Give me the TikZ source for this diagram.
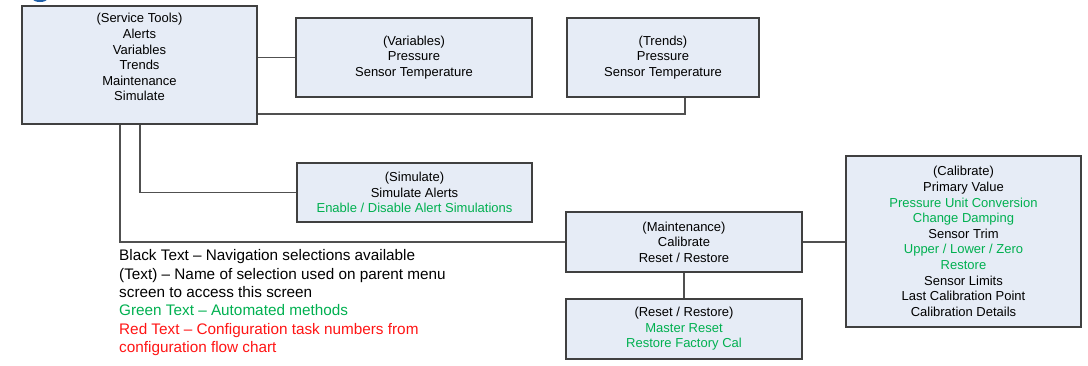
\documentclass[tikz,border=0pt]{standalone}
\usepackage{fontspec}
\setmainfont{Liberation Sans}
\usetikzlibrary{shadows}
\definecolor{boxfill}{RGB}{230,236,246}
\definecolor{boxline}{RGB}{64,64,64}
\definecolor{conn}{RGB}{80,80,80}
\definecolor{gtxt}{RGB}{0,176,80}
\definecolor{rtxt}{RGB}{255,20,20}
\definecolor{headblue}{RGB}{31,95,168}
\tikzset{
  menubox/.style={draw=boxline, line width=1.1pt, fill=boxfill, align=center,
    inner sep=0pt, font=\fontsize{13}{15.6}\selectfont,
    drop shadow={shadow xshift=1pt, shadow yshift=-1pt, fill=black, opacity=0.35}},
  link/.style={draw=conn, line width=1.2pt},
  legend/.style={align=left, inner sep=0pt, anchor=north west,
    font=\fontsize{15.3}{18.4}\selectfont}
}
\begin{document}
\begin{tikzpicture}[x=1pt,y=-1pt]
\useasboundingbox (0,0) rectangle (1088,365);
\begin{scope}
\clip (0,0) rectangle (1088,365);
\fill[headblue] (40,-1) ellipse (7 and 3);
\end{scope}

\node[menubox, minimum width=235pt, minimum height=118pt] (st) at (139.5,65)
  {(Service Tools)\\Alerts\\Variables\\Trends\\Maintenance\\Simulate\\\mbox{}};
\node[menubox, minimum width=236pt, minimum height=79pt] (vars) at (414,57.5)
  {(Variables)\\Pressure\\Sensor Temperature};
\node[menubox, minimum width=192pt, minimum height=79pt] (trends) at (663,57.5)
  {(Trends)\\Pressure\\Sensor Temperature};
\node[menubox, minimum width=235pt, minimum height=59pt] (sim) at (414.5,192.5)
  {(Simulate)\\Simulate Alerts\\\textcolor{gtxt}{Enable / Disable Alert Simulations}};
\node[menubox, minimum width=236pt, minimum height=60pt] (maint) at (684,242)
  {(Maintenance)\\Calibrate\\Reset / Restore};
\node[menubox, minimum width=236pt, minimum height=60pt] (reset) at (684,329)
  {(Reset / Restore)\\\textcolor{gtxt}{Master Reset}\\\textcolor{gtxt}{Restore Factory Cal}};
\node[menubox, minimum width=235pt, minimum height=171pt] (cal) at (963.5,241.5)
  {(Calibrate)\\Primary Value\\\textcolor{gtxt}{Pressure Unit Conversion}\\\textcolor{gtxt}{Change Damping}\\Sensor Trim\\\textcolor{gtxt}{Upper / Lower / Zero}\\\textcolor{gtxt}{Restore}\\Sensor Limits\\Last Calibration Point\\Calibration Details};

\node[legend] (leg) at (119,249.5)
  {Black Text – Navigation selections available\\
   (Text) – Name of selection used on parent menu\\
   screen to access this screen\\
   \textcolor{gtxt}{Green Text – Automated methods}\\
   \textcolor{rtxt}{Red Text – Configuration task numbers from}\\
   \textcolor{rtxt}{configuration flow chart}};

\draw[link] (vars.west) -- (vars.west -| st.east);
\draw[link] (trends.south -| 685,0) |- (st.east |- 0,114);
\draw[link] (st.south -| 140,0) |- (sim.west);
\draw[link] (st.south -| 120,0) |- (maint.west);
\draw[link] (maint.east) -- (cal.west |- maint.east);
\draw[link] (maint.south) -- (reset.north);
\end{tikzpicture}
\end{document}
